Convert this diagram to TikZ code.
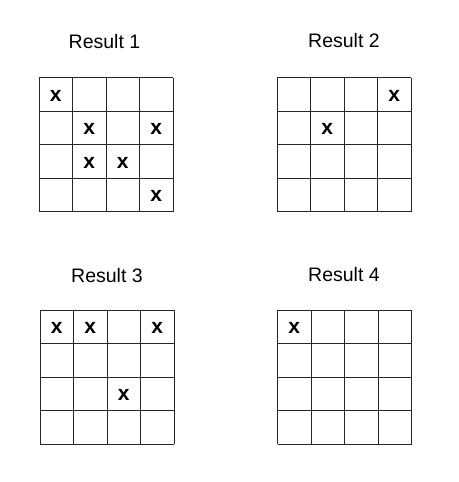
\documentclass[tikz,border=0pt]{standalone}
\usepackage{fontspec}
\setmainfont{Liberation Sans}
\begin{document}
\begin{tikzpicture}[x=1pt,y=-1pt,
  gridline/.style={draw=black!85,line width=0.9pt},
  title/.style={font=\fontsize{19.5}{22}\selectfont,inner sep=0pt,anchor=base},
  xmark/.style={font=\fontsize{21}{23}\selectfont\bfseries,inner sep=0pt,anchor=base}]
\useasboundingbox (0,0) rectangle (458,482);
% titles
\node[title] (t1) at (104.5,48.5) {Result 1};
\node[title] (t2) at (344,47.5) {Result 2};
\node[title] (t3) at (107,282.5) {Result 3};
\node[title] (t4) at (344,281) {Result 4};
% grids: origin (left, top), cell size
\def\cs{33.5}
\foreach \ox/\oy in {39/77.5, 277/77.5, 40/310, 277.5/310}{
  \foreach \i in {0,...,4}{
    \draw[gridline] (\ox+\i*\cs,\oy) -- (\ox+\i*\cs,\oy+4*\cs);
    \draw[gridline] (\ox,\oy+\i*\cs) -- (\ox+4*\cs,\oy+\i*\cs);
  }
}
% marks: grid origin, column, row
\foreach \ox/\oy/\c/\r in {39/77.5/0/0, 39/77.5/1/1, 39/77.5/3/1, 39/77.5/1/2, 39/77.5/2/2, 39/77.5/3/3,
  277/77.5/3/0, 277/77.5/1/1,
  40/310/0/0, 40/310/1/0, 40/310/3/0, 40/310/2/2,
  277.5/310/0/0}{
  \node[xmark] at (\ox+\c*\cs+0.5*\cs,\oy+\r*\cs+0.5*\cs+7) {x};
}
\end{tikzpicture}
\end{document}
